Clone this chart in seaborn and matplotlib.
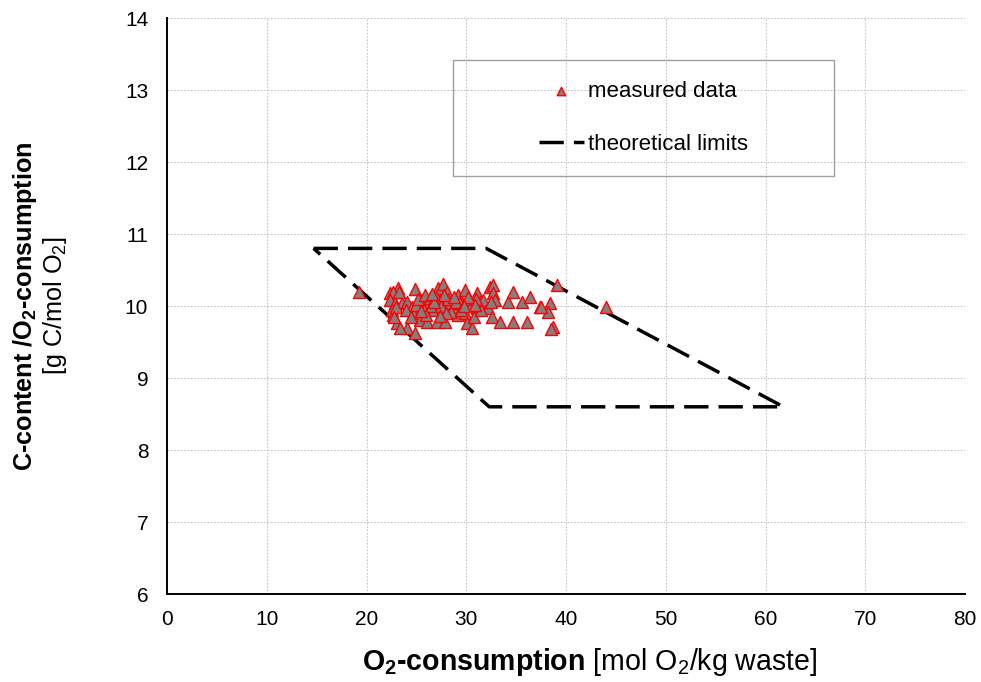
import numpy as np
import pandas as pd
import matplotlib
matplotlib.use("Agg")
import matplotlib.pyplot as plt
import seaborn as sns
from matplotlib.patches import Rectangle

# ---------------- data ----------------
measured_x = [19.25, 22.35, 23.19, 22.69, 22.35, 22.85, 22.52, 22.69, 23.02, 24.02,
              24.86, 24.86, 23.52, 24.02, 24.52, 24.69, 25.36, 25.53, 26.03, 26.36,
              26.70, 26.03, 27.03, 27.20, 27.70, 28.03, 27.37, 27.70, 27.87, 28.37,
              28.70, 29.20, 29.37, 29.20, 29.87, 30.04, 29.87, 30.04, 30.54, 31.04,
              31.38, 31.04, 31.71, 32.21, 32.38, 32.71, 32.71, 32.88, 32.55, 33.38,
              34.22, 34.72, 34.72, 35.55, 36.05, 36.39, 37.39, 38.39, 38.23, 38.73,
              39.06, 44.00,
              23.3, 24.0, 25.0, 25.8, 26.5, 27.0, 27.5, 28.2, 28.5, 29.0,
              29.5, 30.5, 31.0, 30.8, 26.0, 24.5, 23.0, 25.5, 27.8, 28.8,
              30.2, 31.5, 32.5, 26.8, 29.8, 28.0, 25.2, 22.8, 38.5, 37.5,
              23.4, 25.9, 27.4, 30.9, 26.6]
measured_y = [10.19, 10.18, 10.25, 10.20, 10.08, 10.04, 9.94, 9.88, 9.76, 9.69,
              9.62, 10.23, 10.04, 10.06, 9.99, 9.90, 9.81, 10.08, 10.04, 10.11,
              9.94, 9.78, 9.78, 10.25, 10.31, 10.20, 10.08, 9.97, 9.78, 10.04,
              9.99, 10.15, 10.04, 9.88, 10.22, 10.06, 9.90, 9.76, 9.69, 10.18,
              10.06, 9.97, 10.08, 9.97, 10.27, 10.29, 10.18, 10.08, 9.85, 9.78,
              10.06, 10.20, 9.78, 10.06, 9.78, 10.13, 9.99, 10.04, 9.92, 9.71,
              10.29, 9.98,
              10.20, 9.95, 10.02, 9.95, 10.00, 10.12, 10.00, 10.10, 9.92, 10.05,
              9.95, 10.00, 10.10, 9.85, 9.88, 9.85, 9.98, 9.93, 10.15, 10.12,
              10.12, 9.95, 10.05, 10.05, 10.00, 9.90, 10.10, 9.85, 9.68, 9.98,
              9.70, 10.15, 9.86, 10.02, 10.16]

limit_x = [14.7, 32.0, 61.8, 32.3, 14.7]
limit_y = [10.8, 10.8, 8.6, 8.6, 10.8]

x_ticks = [0, 10, 20, 30, 40, 50, 60, 70, 80]
y_ticks = [6, 7, 8, 9, 10, 11, 12, 13, 14]

label_measured = "measured data"
label_limits = "theoretical limits"

# ---------------- style ----------------
sns.set_theme(style="white")
plt.rcParams["font.family"] = ["Liberation Sans", "DejaVu Sans"]
plt.rcParams["mathtext.fontset"] = "custom"
plt.rcParams["mathtext.rm"] = "Liberation Sans"
plt.rcParams["mathtext.it"] = "Liberation Sans:italic"
plt.rcParams["mathtext.bf"] = "Liberation Sans:bold"
plt.rcParams["text.color"] = "black"
plt.rcParams["axes.labelcolor"] = "black"
plt.rcParams["xtick.color"] = "black"
plt.rcParams["ytick.color"] = "black"

W, H = 981, 682
fig = plt.figure(figsize=(W / 100, H / 100), dpi=100)
L, R, T, B = 167, 965, 18, 594
ax = fig.add_axes([L / W, 1 - B / H, (R - L) / W, (B - T) / H])

df_m = pd.DataFrame({"x": measured_x, "y": measured_y})
df_l = pd.DataFrame({"x": limit_x, "y": limit_y})

sns.lineplot(data=df_l, x="x", y="y", sort=False, estimator=None, ax=ax,
             color="black", lw=2.5, linestyle=(0, (7, 2.9)),
             label=label_limits, zorder=2)
sns.scatterplot(data=df_m, x="x", y="y", marker="^", s=75, color="#808080",
                edgecolor="red", linewidth=1.0, ax=ax, label=label_measured,
                zorder=3)

ax.set_xlim(0, 80)
ax.set_ylim(6, 14)
ax.set_xticks(x_ticks)
ax.set_yticks(y_ticks)
ax.set_xticklabels([str(v) for v in x_ticks])
ax.set_yticklabels([str(v) for v in y_ticks])
ax.tick_params(axis="both", labelsize=15, colors="black", direction="out",
               length=4.5, width=1)
ax.tick_params(axis="x", pad=7)
ax.tick_params(axis="y", pad=9)
ax.grid(True, color="#c4c4c4", linestyle=(0, (1.5, 1.5)), linewidth=0.8)
ax.set_axisbelow(True)
for s in ["top", "right"]:
    ax.spines[s].set_visible(False)
for s in ["left", "bottom"]:
    ax.spines[s].set_color("black")
    ax.spines[s].set_linewidth(1.4)
ax.set_xlabel("")
ax.set_ylabel("")

# legend
handles, labels = ax.get_legend_handles_labels()
order = [labels.index(label_measured), labels.index(label_limits)]
lx0, lx1, ly0, ly1 = 453, 834, 60, 176
cx = ((lx0 + lx1) / 2 - L) / (R - L)
cy = (B - (ly0 + ly1) / 2) / (B - T)
leg = ax.legend([handles[i] for i in order], [labels[i] for i in order],
                loc="center", bbox_to_anchor=(cx, cy), frameon=False,
                fontsize=16, handlelength=2.0, handletextpad=0.2,
                labelspacing=1.45, markerscale=0.7)
ax.add_patch(Rectangle(((lx0 - L) / (R - L), (B - ly1) / (B - T)),
                       (lx1 - lx0) / (R - L), (ly1 - ly0) / (B - T),
                       transform=ax.transAxes, fill=False, edgecolor="#a0a0a0",
                       lw=1.0, zorder=4))

# axis titles built from bold + regular pieces
fig.canvas.draw()
rend = fig.canvas.get_renderer()

def fit_size(s, target_px, weight="normal"):
    fs = 16.0
    for _ in range(3):
        t = fig.text(0, 0, s, fontsize=fs, fontweight=weight)
        w = t.get_window_extent(rend).width
        t.remove()
        fs *= target_px / w
    return fs

# x label
xb = r"O$_\mathbf{2}$-consumption"
xr = r" [mol O$_2$/kg waste]"
fs_try = 16.0
for _ in range(3):
    a = fig.text(0, 0, xb, fontsize=fs_try, fontweight="bold")
    b = fig.text(0, 0, xr, fontsize=fs_try)
    w = a.get_window_extent(rend).width + b.get_window_extent(rend).width
    a.remove(); b.remove()
    fs_try *= 456 / w
fsx = fs_try
t1 = fig.text(362 / W, 1 - 670 / H, xb, fontsize=fsx, fontweight="bold",
              ha="left", va="baseline")
w1 = t1.get_window_extent(rend).width
fig.text((362 + w1) / W, 1 - 670 / H, xr, fontsize=fsx, ha="left", va="baseline")

# y label (two lines)
yb = r"C-content /O$_\mathbf{2}$-consumption"
yr = r"[g C/mol O$_2$]"
fsy = fit_size(yb, 330, "bold")
fig.text(25 / W, 1 - 306 / H, yb, fontsize=fsy, fontweight="bold",
         rotation=90, ha="center", va="center")
fig.text(55 / W, 1 - 306 / H, yr, fontsize=fsy, rotation=90,
         ha="center", va="center")

fig.savefig("out.png", dpi=100, facecolor="white")
